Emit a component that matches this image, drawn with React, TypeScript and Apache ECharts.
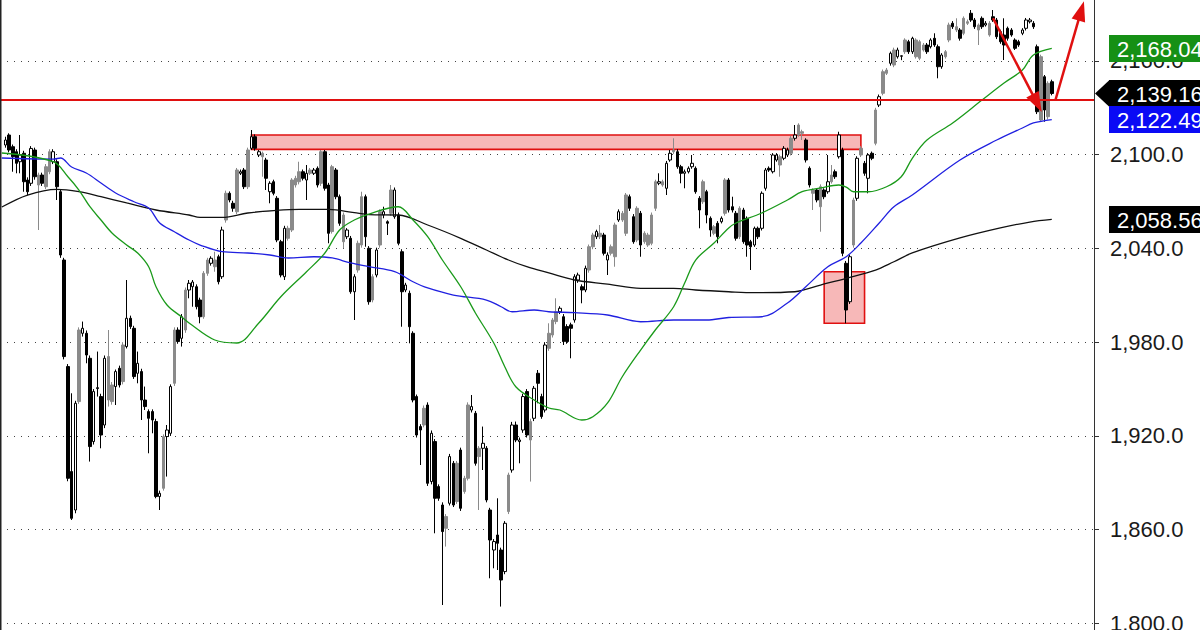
import React, { useEffect, useRef } from "react";
import * as echarts from "echarts";

// Daily candles: [open, close, low, high]
const candles: number[][] = [
  [2106.2,2109.4,2104.5,2111.5],[2112.6,2103.0,2101.5,2113.7],[2105.1,2098.7,2089.1,2106.5],[2101.9,2094.5,2088.1,2103.5],[2095.5,2099.8,2088.1,2112.6],
  [2100.9,2082.7,2076.3,2102.5],[2083.8,2076.3,2074.0,2085.5],[2081.7,2104.0,2080.0,2105.5],[2103.0,2085.9,2084.0,2104.5],[2080.6,2087.0,2051.8,2088.5],
  [2087.0,2081.7,2080.0,2088.5],[2079.5,2092.3,2078.0,2094.0],[2089.1,2101.9,2087.5,2103.5],[2095.5,2101.9,2094.0,2103.5],[2095.5,2079.5,2071.0,2097.0],
  [2076.3,2035.8,2034.0,2077.5],[2032.6,1970.8,1969.0,2034.0],[1964.4,1892.9,1891.0,1966.0],[1897.2,1867.3,1866.2,1947.3],[1872.6,1940.9,1870.5,1942.5],
  [1942.0,1987.8,1940.5,1989.5],[1985.7,1988.9,1983.6,1993.2],[1985.7,1971.8,1966.5,1987.5],[1969.7,1913.2,1903.6,1971.5],[1916.4,1948.4,1914.5,1950.0],
  [1950.3,1950.9,1945.2,1974.0],[1945.2,1920.6,1912.1,1947.0],[1927.0,1969.7,1925.0,1971.5],[1943.0,1970.8,1938.8,1987.8],[1942.0,1952.6,1940.0,1954.5],
  [1951.6,1961.2,1939.8,1962.5],[1963.3,1952.6,1951.0,1965.0],[1954.8,1978.2,1953.0,1980.0],[1977.2,1995.3,1976.0,2019.8],[1995.3,1990.0,1988.5,1997.0],
  [1988.9,1958.0,1956.5,1990.5],[1960.1,1966.5,1953.7,1974.0],[1961.2,1943.0,1930.2,1963.0],[1943.0,1938.8,1936.6,1951.6],[1935.6,1931.3,1908.9,1937.0],
  [1935.6,1930.2,1921.7,1937.0],[1929.2,1881.2,1880.1,1931.0],[1881.2,1883.3,1872.6,1885.0],[1886.5,1919.6,1885.0,1921.0],[1919.6,1923.8,1894.0,1927.0],
  [1921.7,1951.6,1920.0,1953.0],[1953.7,1987.8,1952.0,1989.5],[1987.8,1980.4,1979.0,1989.5],[1982.5,1996.3,1977.2,1998.0],[1987.8,2013.4,1986.0,2015.0],
  [2013.4,2017.7,2008.1,2019.8],[2015.5,2018.5,2002.7,2019.8],[2015.5,2002.7,2001.0,2017.0],[2007.0,1996.3,1992.1,2008.5],[1996.3,2024.1,1995.0,2025.5],
  [2024.1,2032.6,2022.5,2034.0],[2030.5,2033.7,2029.0,2035.0],[2028.3,2032.6,2025.1,2037.9],[2034.7,2018.7,2017.0,2036.0],[2021.9,2051.8,2020.5,2053.9],
  [2058.2,2075.3,2056.5,2077.0],[2075.3,2071.0,2069.5,2076.5],[2068.9,2065.7,2063.5,2070.5],[2063.5,2090.2,2062.0,2091.5],[2088.1,2089.1,2087.0,2090.5],
  [2090.2,2079.5,2078.0,2091.5],[2079.5,2103.0,2078.0,2104.5],[2104.1,2111.5,2103.0,2115.8],[2111.5,2104.1,2102.5,2113.0],[2099.8,2101.9,2098.5,2103.0],
  [2098.7,2100.9,2085.9,2102.0],[2096.6,2084.9,2077.4,2098.0],[2076.3,2081.7,2068.9,2083.0],[2082.7,2075.3,2074.0,2084.0],[2072.1,2045.4,2044.0,2073.5],
  [2044.3,2023.0,2021.5,2045.5],[2021.9,2052.9,2019.8,2054.5],[2046.5,2052.9,2045.0,2054.5],[2051.8,2083.8,2050.5,2085.0],[2080.6,2084.9,2079.0,2086.5],
  [2082.7,2089.1,2081.0,2095.5],[2089.1,2084.9,2083.5,2090.5],[2083.8,2088.1,2071.0,2093.4],[2088.1,2090.2,2087.0,2091.5],[2088.1,2090.2,2087.0,2091.5],
  [2091.3,2080.6,2079.0,2092.5],[2081.7,2101.9,2080.0,2103.0],[2101.9,2078.5,2077.0,2103.0],[2080.6,2049.7,2043.3,2082.0],[2050.8,2092.3,2049.5,2093.5],
  [2090.2,2073.1,2071.5,2091.5],[2073.1,2056.1,2054.5,2074.5],[2044.3,2061.4,2040.1,2063.0],[2047.5,2051.8,2046.0,2053.0],[2046.5,2012.3,2011.0,2048.0],
  [2012.3,2021.9,1994.2,2023.5],[2026.2,2043.3,2024.5,2045.0],[2042.2,2073.1,2040.5,2076.3],[2073.1,2047.5,2041.1,2074.5],[2040.1,2005.9,2004.0,2041.5],
  [2007.0,2021.9,2005.5,2023.5],[2023.0,2039.0,2021.5,2040.5],[2042.2,2063.5,2040.5,2065.0],[2061.4,2063.5,2059.3,2066.7],[2057.1,2056.1,2048.6,2058.0],
  [2062.5,2077.4,2061.0,2080.6],[2060.3,2077.4,2059.0,2079.0],[2061.4,2043.3,2042.0,2063.0],[2037.9,2012.3,1989.9,2039.5],[2013.4,2016.6,2012.0,2018.0],
  [2011.3,1989.9,1979.3,2013.0],[1985.7,1943.0,1941.5,1987.0],[1945.2,1920.6,1919.0,1946.5],[1926.0,1923.8,1901.4,1927.5],[1927.0,1937.7,1925.5,1939.5],
  [1939.8,1889.7,1888.0,1941.5],[1890.8,1921.7,1889.0,1923.5],[1916.4,1880.1,1857.7,1918.0],[1887.6,1880.1,1878.5,1889.0],[1875.8,1858.8,1811.8,1877.5],
  [1860.9,1868.4,1849.2,1870.0],[1876.9,1906.8,1875.5,1908.5],[1902.5,1875.8,1874.5,1904.0],[1878.0,1902.5,1876.5,1904.0],[1911.0,1873.7,1872.0,1912.5],
  [1884.4,1892.9,1883.0,1894.5],[1892.9,1939.8,1891.5,1941.5],[1936.6,1938.8,1935.0,1946.2],[1934.5,1902.5,1901.0,1936.0],[1906.8,1912.1,1872.6,1913.5],
  [1912.1,1915.3,1898.2,1926.0],[1912.1,1879.0,1877.5,1913.5],[1872.6,1853.4,1828.9,1874.0],[1847.0,1852.4,1835.3,1854.0],[1856.6,1851.3,1834.2,1880.1],
  [1847.0,1827.8,1810.8,1848.5],[1833.2,1864.1,1831.5,1865.5],[1871.6,1895.0,1870.0,1896.5],[1898.2,1927.0,1896.5,1929.0],[1927.0,1917.4,1916.0,1929.2],
  [1916.4,1917.4,1902.5,1919.0],[1923.8,1945.2,1922.0,1947.0],[1948.4,1920.6,1919.0,1950.0],[1917.4,1929.2,1890.8,1931.0],[1931.3,1950.5,1929.5,1952.0],
  [1960.1,1953.7,1940.9,1962.2],[1945.2,1932.4,1931.0,1947.0],[1936.6,1978.2,1935.0,1980.0],[1976.1,1985.7,1974.5,1992.1],[1984.6,1994.2,1983.0,1995.5],
  [1993.2,1999.5,1991.5,2008.1],[1999.5,2001.7,1998.0,2003.0],[1996.3,1980.4,1978.2,1998.0],[1990.0,1980.4,1979.0,1991.5],[1991.1,1988.9,1969.7,1992.5],
  [1994.2,2021.9,1992.5,2023.5],[2019.8,2023.0,2018.0,2024.5],[2015.5,2013.4,2004.9,2017.0],[2013.4,2027.3,2012.0,2029.0],[2026.2,2041.1,2024.5,2042.5],
  [2041.1,2048.6,2039.5,2050.0],[2047.5,2050.8,2046.0,2052.0],[2047.5,2049.7,2046.0,2055.0],[2048.6,2036.9,2035.5,2050.0],[2032.6,2035.8,2023.0,2037.5],
  [2036.9,2041.1,2035.5,2042.5],[2034.7,2055.0,2028.3,2056.5],[2058.2,2063.5,2057.0,2065.0],[2058.2,2062.5,2057.0,2064.0],[2049.7,2074.2,2048.0,2075.5],
  [2073.1,2065.7,2064.0,2074.5],[2060.3,2044.3,2043.0,2062.0],[2045.4,2065.7,2044.0,2067.0],[2062.5,2042.2,2034.7,2064.0],[2044.3,2049.7,2043.0,2051.0],
  [2042.2,2048.6,2041.0,2050.0],[2043.3,2061.4,2042.0,2063.0],[2065.7,2082.7,2064.0,2084.0],[2081.7,2082.7,2080.5,2088.1],[2080.6,2082.7,2079.5,2084.0],
  [2078.5,2094.5,2074.2,2096.0],[2096.6,2100.9,2095.5,2103.0],[2101.9,2103.0,2100.5,2110.5],[2101.9,2092.3,2091.0,2103.5],[2092.3,2088.1,2081.7,2093.5],
  [2088.1,2089.1,2078.5,2090.5],[2089.1,2091.3,2088.0,2092.5],[2092.3,2094.5,2091.0,2099.8],[2091.3,2076.3,2075.0,2092.5],[2072.1,2064.6,2052.9,2073.5],
  [2069.9,2082.7,2068.5,2084.0],[2076.3,2061.4,2056.1,2077.5],[2059.3,2051.8,2047.5,2060.5],[2049.7,2053.9,2048.5,2055.0],[2056.1,2047.5,2043.3,2057.5],
  [2057.1,2059.3,2056.0,2060.5],[2062.5,2083.8,2061.0,2085.0],[2083.8,2064.6,2063.0,2085.0],[2066.7,2064.6,2063.0,2073.1],[2062.5,2046.5,2045.0,2064.0],
  [2047.5,2065.7,2046.0,2067.0],[2064.6,2044.3,2043.0,2066.0],[2059.3,2042.2,2034.7,2060.5],[2044.3,2041.1,2026.2,2045.5],[2042.2,2052.9,2041.0,2054.0],
  [2052.9,2047.5,2046.0,2054.0],[2052.9,2075.3,2051.5,2076.5],[2078.5,2090.2,2077.0,2091.5],[2091.3,2090.2,2089.0,2092.5],[2089.1,2099.8,2088.0,2101.0],
  [2096.6,2099.8,2095.5,2101.0],[2093.4,2098.7,2085.9,2100.0],[2097.7,2104.1,2096.5,2105.5],[2099.8,2103.0,2098.5,2104.5],[2100.9,2110.5,2099.5,2112.0],
  [2110.5,2112.6,2109.0,2119.0],[2112.6,2119.0,2111.5,2120.1],[2113.7,2114.7,2109.4,2116.0],[2109.4,2096.6,2095.0,2110.5],[2091.3,2080.6,2079.0,2092.5],
  [2075.3,2077.4,2064.6,2078.5],[2077.4,2071.0,2069.5,2078.5],[2066.7,2079.5,2050.7,2081.0],[2077.4,2073.1,2071.5,2078.5],[2076.3,2082.7,2075.0,2099.8],
  [2082.7,2087.0,2081.5,2093.4],[2089.1,2085.9,2084.5,2090.5],[2098.7,2112.6,2097.5,2114.7],[2103.0,2036.9,2035.0,2104.5],[2030.5,2000.6,1992.1,2032.0],
  [2005.9,2034.7,2004.5,2036.0],[2042.2,2071.0,2040.5,2072.5],[2072.1,2097.7,2070.5,2099.0],[2099.8,2104.1,2098.5,2105.5],[2094.5,2088.1,2086.5,2096.0],
  [2084.9,2099.8,2075.3,2101.0],[2100.9,2097.7,2096.5,2102.0],[2107.3,2128.6,2106.0,2130.0],[2131.8,2137.1,2130.5,2138.5],[2139.3,2153.1,2138.0,2154.5],
  [2152.1,2154.2,2151.0,2155.5],[2158.5,2164.9,2157.0,2166.0],[2157.4,2167.0,2156.0,2168.5],[2162.7,2167.0,2161.5,2168.5],[2163.0,2163.3,2160.5,2163.5],
  [2165.9,2173.4,2164.5,2174.5],[2172.3,2165.9,2164.5,2173.5],[2165.9,2174.5,2164.5,2175.5],[2162.7,2173.4,2161.5,2174.5],[2161.7,2172.3,2160.5,2173.5],
  [2167.0,2170.2,2166.0,2171.5],[2170.2,2165.9,2164.5,2171.5],[2169.1,2173.4,2168.0,2174.5],[2174.5,2170.2,2169.0,2177.7],[2169.1,2156.3,2148.9,2170.5],
  [2156.3,2163.8,2155.0,2165.0],[2162.7,2165.9,2161.5,2167.0],[2173.4,2183.0,2172.0,2184.5],[2184.1,2181.9,2180.5,2185.5],[2179.8,2181.9,2178.5,2187.3],
  [2179.8,2174.5,2173.0,2181.0],[2177.7,2187.3,2176.5,2188.5],[2184.1,2185.1,2183.0,2186.5],[2190.5,2186.2,2185.0,2192.6],[2186.2,2181.9,2180.5,2187.5],
  [2179.8,2183.0,2170.2,2184.0],[2187.3,2181.9,2180.5,2188.5],[2183.0,2184.1,2182.0,2185.5],[2176.6,2184.1,2175.5,2185.5],[2188.3,2186.2,2185.0,2192.6],
  [2186.2,2175.5,2174.0,2187.5],[2178.7,2172.3,2171.0,2180.0],[2176.6,2170.2,2160.6,2187.3],[2180.9,2174.5,2173.0,2182.0],[2179.8,2176.6,2175.5,2181.0],
  [2173.4,2168.1,2167.0,2174.5],[2172.3,2170.2,2169.0,2173.5],[2177.7,2179.8,2176.5,2181.0],[2180.9,2186.2,2179.5,2187.5],[2185.1,2186.2,2184.0,2187.5],
  [2184.1,2181.9,2180.5,2185.5],[2169.1,2127.5,2126.0,2170.5],[2122.2,2162.7,2121.0,2164.0],[2149.9,2128.6,2121.1,2151.0],[2124.3,2145.7,2122.5,2147.0],
  [2146.7,2139.16,2138.0,2148.0],
];

// candle look: h = hollow up, g = grey up, b = black down
const candleKinds =
  "hbbbhbbhbg" + "bgghbbbbbh" + "ghbbhhbhgg" + "hbghbbhbbb" + "bbhghhgbhg" +
  "hhbbgghgbh" + "gbbghbghbh" + "gbhbbbhggg" + "gbhghbgbbg" + "bbghbhggbb" +
  "ghghbghbbh" + "bbbbgbhbbb" + "ghbgbgghbg" + "hbbhbbhghb" + "hhbghbbhgg" +
  "ghbbbhhbhg" + "ghgbhgghgg" + "bbgbgggghg" + "hhgbbhhhbb" + "gbbgbhgbbb" +
  "gbbbhbhhbh" + "hghhghggbb" + "gbgbhgbhbb" + "hghgbhbghg" + "ghghhgbhgg" +
  "gbhbbhggbg" + "bggbbgbhgb" + "bbbbbbbhhh" + "bbgbgb";

const leadingSlots = 1;
const trailingSlots = 11;

// moving averages: [slot index, value]
const greenMA = [
  [0,2101.1],[14,2095.5],[18,2085.9],[21,2077.4],[24,2066.7],[27,2058.2],[30,2049.9],[34,2042.2],[37,2037.1],[40,2028.3],
  [42,2015.5],[45,2003.8],[49,1996.1],[51,1992.3],[58,1981.4],[64,1979.5],[70,1992.3],[76,2009.1],[83,2025.1],[88,2037.1],
  [92,2051.8],[96,2058.2],[100,2062.0],[108,2066.7],[112,2058.2],[116,2047.5],[120,2032.6],[125,2015.5],[129,1998.7],[134,1979.5],
  [137,1964.3],[140,1951.5],[145,1943.0],[149,1937.9],[152,1936.6],[158,1930.2],[161,1932.3],[165,1941.1],[169,1957.9],[174,1975.0],
  [178,1987.8],[183,2002.7],[186,2017.9],[189,2032.6],[194,2043.5],[198,2053.1],[200,2056.3],[207,2062.7],[214,2071.0],[218,2076.3],
  [223,2078.7],[228,2080.6],[230,2079.3],[232,2076.3],[236,2076.3],[241,2079.5],[245,2085.9],[248,2097.7],[252,2109.4],[259,2120.3],
  [267,2135.0],[273,2145.9],[278,2154.2],[281,2163.8],[286,2168.04],
];
const blueMA = [
  [0,2097.9],[14,2097.2],[16,2097.9],[19,2092.1],[23,2088.3],[27,2081.9],[31,2075.5],[36,2069.9],[40,2065.9],[43,2056.3],
  [47,2050.7],[51,2045.4],[54,2042.2],[60,2037.9],[67,2037.1],[73,2035.8],[78,2033.9],[85,2034.7],[90,2033.9],[95,2030.7],
  [100,2028.3],[107,2025.1],[112,2018.7],[116,2014.7],[123,2010.2],[132,2007.0],[136,2002.7],[139,1999.5],[145,2000.6],[149,1999.5],
  [156,1998.9],[165,1997.4],[174,1993.1],[183,1994.2],[192,1994.2],[198,1995.8],[207,1996.3],[214,2005.1],[219,2015.5],[225,2028.3],
  [230,2034.7],[234,2043.5],[239,2056.3],[243,2066.7],[248,2074.2],[261,2096.6],[271,2109.4],[278,2117.1],[281,2120.3],[286,2122.49],
];
const blackMA = [
  [0,2066.5],[7,2074.2],[15,2077.8],[21,2076.3],[27,2073.1],[34,2069.1],[42,2064.6],[51,2061.4],[54,2059.9],[60,2059.9],
  [67,2062.7],[74,2064.2],[81,2065.0],[89,2065.0],[96,2062.9],[100,2061.7],[108,2061.4],[116,2055.0],[125,2046.5],[132,2039.0],
  [138,2032.6],[143,2028.3],[149,2024.3],[156,2019.8],[165,2017.2],[174,2014.5],[183,2014.5],[189,2013.4],[198,2012.3],[205,2011.7],
  [216,2012.3],[223,2016.6],[230,2020.9],[238,2026.2],[243,2031.5],[248,2037.1],[261,2046.7],[272,2053.1],[280,2056.9],[286,2058.56],
];

const yMin = 1740;
const yMax = 2220;
const yStep = 60;
const lastClose = 2139.16;
const greenLast = 2168.04;
const blueLast = 2122.49;
const blackLast = 2058.56;
const supportLevel = 2135.0;
const resistanceZone = [[68, 2112.6], [234, 2103.4]];
const bounceZone = [[224, 2025.1], [235, 1992.1]];
const downArrow = [[270, 2187.3], [282, 2133.0]];
const upArrow = [[287, 2135.0], [294, 2192.0]];
const dividerSlot = 109;

const FONT = '"Liberation Sans", Arial, Helvetica, sans-serif';
const GREY = "#8a8a8a";
const RED = "#e01010";

function fmt(v: number, d: number) {
  return v.toLocaleString("en-US", { minimumFractionDigits: d, maximumFractionDigits: d });
}

export default function App() {
  const ref = useRef<HTMLDivElement>(null);
  useEffect(() => {
    if (!ref.current) return;
    const chart = echarts.init(ref.current, undefined, { renderer: "svg" });
    const total = leadingSlots + candles.length + trailingSlots;
    const cats = Array.from({ length: total }, (_, i) => String(i));
    const styleOf = (k: string) => {
      if (k === "b") return { color: "#000", color0: "#000", borderColor: "#000", borderColor0: "#000" };
      if (k === "g") return { color: GREY, color0: GREY, borderColor: GREY, borderColor0: GREY };
      return { color: "#fff", color0: "#fff", borderColor: "#000", borderColor0: "#000" };
    };
    const cdata: any[] = [];
    for (let i = 0; i < leadingSlots; i++) cdata.push(["-", "-", "-", "-"]);
    candles.forEach((c, i) => cdata.push({ value: c, itemStyle: styleOf(candleKinds[i] || "h") }));

    const ma = (data: number[][], color: string, extra: any = {}) => ({
      type: "line",
      data,
      smooth: 0.35,
      showSymbol: false,
      symbol: "none",
      silent: true,
      lineStyle: { color, width: 1.3 },
      z: 3,
      ...extra,
    });

    chart.setOption({
      animation: false,
      backgroundColor: "#ffffff",
      grid: {
        left: 0,
        right: 106,
        top: -32.8,
        height: 750,
        containLabel: false,
        outerBoundsMode: "none",
      },
      xAxis: {
        type: "category",
        data: cats,
        boundaryGap: true,
        axisLine: { show: false },
        axisTick: { show: false },
        axisLabel: { show: false },
        splitLine: {
          show: true,
          interval: (i: number) => i === dividerSlot,
          lineStyle: { color: "#777", type: [1, 6], width: 1 },
        },
      },
      yAxis: {
        type: "value",
        position: "right",
        min: yMin,
        max: yMax,
        interval: yStep,
        axisLine: { show: true, lineStyle: { color: "#333", width: 1 } },
        axisTick: { show: true, length: 5, lineStyle: { color: "#333" } },
        axisLabel: {
          margin: 16,
          fontSize: 22,
          fontFamily: FONT,
          color: "#1a1a1a",
          hideOverlap: false,
          formatter: (v: number) => fmt(v, 1),
        },
        splitLine: { show: true, lineStyle: { color: "#444", type: [1, 6], width: 1 } },
      },
      series: [
        {
          type: "candlestick",
          data: cdata,
          barWidth: 3,
          silent: true,
          itemStyle: { borderWidth: 1 },
          markArea: {
            silent: true,
            itemStyle: { color: "rgba(232,40,40,0.33)", borderColor: RED, borderWidth: 1.6 },
            data: [
              [{ coord: resistanceZone[0] }, { coord: resistanceZone[1] }],
              [{ coord: bounceZone[0] }, { coord: bounceZone[1] }],
            ],
          },
        },
        ma(blackMA, "#111111"),
        ma(blueMA, "#2020e0"),
        ma(greenMA, "#1a9a1a", {
          markLine: {
            silent: true,
            symbol: ["none", "none"],
            label: { show: false },
            lineStyle: { color: RED, width: 2, type: "solid" },
            data: [{ yAxis: supportLevel }],
          },
        }),
        {
          type: "line",
          data: [[0, null]],
          silent: true,
          showSymbol: false,
          z: 5,
          markLine: {
            silent: true,
            symbol: ["none", "triangle"],
            symbolSize: [14, 20],
            label: { show: false },
            lineStyle: { color: RED, width: 2.5, type: "solid" },
            data: [
              [{ coord: downArrow[0] }, { coord: downArrow[1] }],
              [{ coord: upArrow[0] }, { coord: upArrow[1] }],
            ],
          },
        },
      ],
    });

    const tags = [
      { v: greenLast, bg: "#159015", arrow: false },
      { v: lastClose, bg: "#000000", arrow: true },
      { v: blueLast, bg: "#0a0af5", arrow: false },
      { v: blackLast, bg: "#000000", arrow: false },
    ];
    const graphics: any[] = [
      {
        type: "line",
        shape: { x1: 0.75, y1: 0, x2: 0.75, y2: 630 },
        style: { stroke: "#222", lineWidth: 1.5 },
        z: 100,
      },
    ];
    tags.forEach((t) => {
      const y = chart.convertToPixel({ yAxisIndex: 0 }, t.v) as number;
      graphics.push({
        type: "rect",
        shape: { x: 1109, y: y - 13.5, width: 100, height: 27 },
        style: { fill: t.bg },
        z: 100,
      });
      if (t.arrow) {
        graphics.push({
          type: "polygon",
          shape: { points: [[1095, y], [1109.5, y - 13.5], [1109.5, y + 13.5]] },
          style: { fill: t.bg },
          z: 100,
        });
      }
      graphics.push({
        type: "text",
        x: 1117,
        y: y + 1,
        style: {
          text: fmt(t.v, 2),
          fill: "#ffffff",
          font: `22px ${FONT}`,
          verticalAlign: "middle",
          textVerticalAlign: "middle",
        },
        z: 101,
      });
    });
    chart.setOption({ graphic: graphics });

    return () => chart.dispose();
  }, []);

  return (
    <div
      ref={ref}
      style={{ position: "fixed", left: 0, top: 0, width: 1200, height: 630, background: "#fff" }}
    />
  );
}
